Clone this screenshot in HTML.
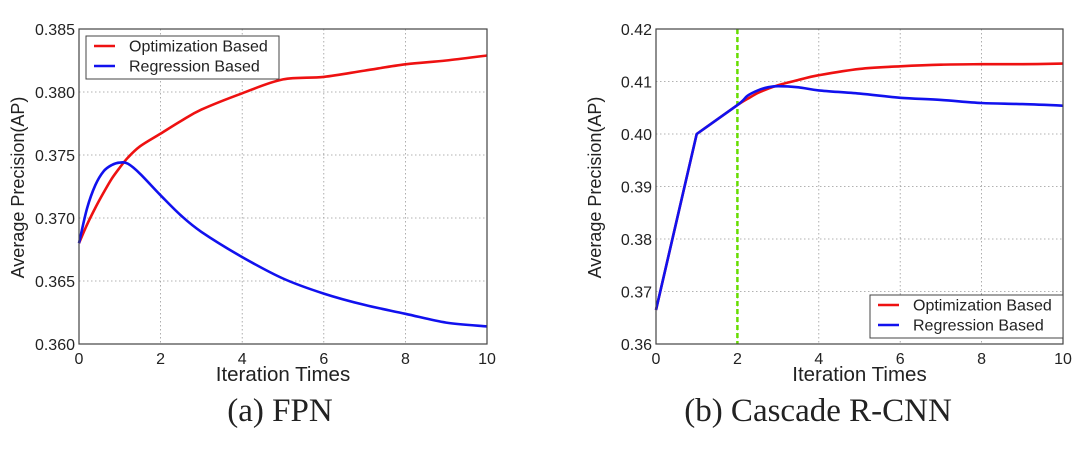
<!DOCTYPE html>
<html><head><meta charset="utf-8"><style>
body{margin:0;background:#fff;width:1080px;height:447px;overflow:hidden}
svg text{font-family:"Liberation Sans",sans-serif;fill:#222}
</style></head><body>
<svg id="s" width="1080" height="447"></svg>
<script>
const fpnX=[0,0.2,0.4,0.6,0.8,1,1.2,1.5,2,2.5,3,4,5,6,7,8,9,10];
const fpnOpt=[0.368,0.3695,0.3708,0.3720,0.3731,0.3740,0.3748,0.3757,0.3767,0.3777,0.3786,0.3799,0.3810,0.3812,0.3817,0.3822,0.3825,0.3829];
const fpnReg=[0.368,0.3708,0.3726,0.3737,0.3742,0.3744,0.3743,0.3735,0.3718,0.3702,0.3689,0.3669,0.3652,0.3640,0.3631,0.3624,0.3617,0.3614];
const casX=[0,1,2,2.25,2.5,2.75,3,3.5,4,5,6,7,8,9,10];
const casOpt=[0.3665,0.400,0.4055,0.4067,0.4078,0.4086,0.4093,0.4103,0.4112,0.4124,0.4129,0.4132,0.4133,0.4133,0.4134];
const casReg=[0.3665,0.400,0.4055,0.4073,0.4083,0.4089,0.4091,0.4089,0.4083,0.4077,0.4069,0.4065,0.4059,0.4057,0.4054];
const xTicks=[0,2,4,6,8,10];
const fpnYTicks=[0.360,0.365,0.370,0.375,0.380,0.385];
const casYTicks=[0.36,0.37,0.38,0.39,0.40,0.41,0.42];
const legendLabels=["Optimization Based","Regression Based"];
const NS="http://www.w3.org/2000/svg";
const svg=document.getElementById('s');
function el(t,a,p){const e=document.createElementNS(NS,t);for(const k in a)e.setAttribute(k,a[k]);(p||svg).appendChild(e);return e;}
function smoothPath(pts,startSmooth){
  let d='M'+pts[0][0].toFixed(1)+','+pts[0][1].toFixed(1);
  for(let i=0;i<pts.length-1;i++){
    const p0=pts[Math.max(i-1,0)],p1=pts[i],p2=pts[i+1],p3=pts[Math.min(i+2,pts.length-1)];
    if(i<startSmooth){d+='L'+p2[0].toFixed(1)+','+p2[1].toFixed(1);continue;}
    const c1=[p1[0]+(p2[0]-p0[0])/6,p1[1]+(p2[1]-p0[1])/6];
    const c2=[p2[0]-(p3[0]-p1[0])/6,p2[1]-(p3[1]-p1[1])/6];
    d+='C'+c1.map(v=>v.toFixed(1)).join(',')+' '+c2.map(v=>v.toFixed(1)).join(',')+' '+p2[0].toFixed(1)+','+p2[1].toFixed(1);
  }
  return d;
}
function panel(id,L,R,T,B,ymin,ymax,yt,dec,X,series,legXY,caption,capX,vline,linearUntil){
  const g=el('g',{});
  
  
  const sx=v=>L+(v-0)/(10-0)*(R-L), sy=v=>B-(v-ymin)/(ymax-ymin)*(B-T);
  xTicks.forEach(t=>{
    const l=el('line',{x1:sx(t),x2:sx(t),y1:T,y2:B,stroke:'#999','stroke-dasharray':'1.5,2.5','stroke-width':0.8},g);
    
    
    const tx=el('text',{x:sx(t),y:B+20,'text-anchor':'middle','font-size':16},g);tx.textContent=t;
    
    
  });
  yt.forEach(t=>{
    const l=el('line',{x1:L,x2:R,y1:sy(t),y2:sy(t),stroke:'#999','stroke-dasharray':'1.5,2.5','stroke-width':0.8},g);
    
    
    const tx=el('text',{x:L-4,y:sy(t)+6,'text-anchor':'end','font-size':16},g);tx.textContent=t.toFixed(dec);
    
    
  });
  if(vline!==undefined){const v=el('line',{x1:sx(vline),x2:sx(vline),y1:T,y2:B,stroke:'#66dd00','stroke-width':2.5,'stroke-dasharray':'5,3'},g);
    
    }
  const cols=['#ee1111','#1111ee'];
  series.forEach((ys,i)=>{
    const pts=X.map((x,j)=>[sx(x),sy(ys[j])]);
    const p=el('path',{d:smoothPath(pts,linearUntil),fill:'none',stroke:cols[i],'stroke-width':2.6,'stroke-linejoin':'round'},g);
    
    
  });
  const fr=el('rect',{x:L,y:T,width:R-L,height:B-T,fill:'none',stroke:'#444','stroke-width':1.2},g);
  
  
  const lg=el('g',{},g);
  
  
  const [lx,ly]=legXY;
  el('rect',{x:lx,y:ly,width:193,height:43,fill:'#fff',stroke:'#444','stroke-width':1},lg);
  legendLabels.forEach((s,i)=>{
    el('line',{x1:lx+8,x2:lx+29,y1:ly+10+i*20,y2:ly+10+i*20,stroke:cols[i],'stroke-width':2.6},lg);
    const t=el('text',{x:lx+43,y:ly+15.5+i*20,'font-size':16},lg);t.textContent=s;
    
    
  });
  const xt=el('text',{x:(L+R)/2,y:B+37,'text-anchor':'middle','font-size':20.5},g);xt.textContent='Iteration Times';
  
  
  const yl=el('text',{x:0,y:0,'text-anchor':'middle','font-size':18,transform:`translate(${L-55},${(T+B)/2+1}) rotate(-90)`},g);yl.textContent='Average Precision(AP)';
  
  
  const c=el('text',{x:capX,y:421,'text-anchor':'middle','font-size':33,style:'font-family:"Liberation Serif",serif'},g);c.textContent=caption;
  
  
}
panel('fpn',79,487,29,344,0.360,0.385,fpnYTicks,3,fpnX,[fpnOpt,fpnReg],[86,36],'(a) FPN',280,undefined,0);
panel('cascade',656,1063,29,344,0.36,0.42,casYTicks,2,casX,[casOpt,casReg],[870,295],'(b) Cascade R-CNN',818,2,2);
</script>
</body></html>
